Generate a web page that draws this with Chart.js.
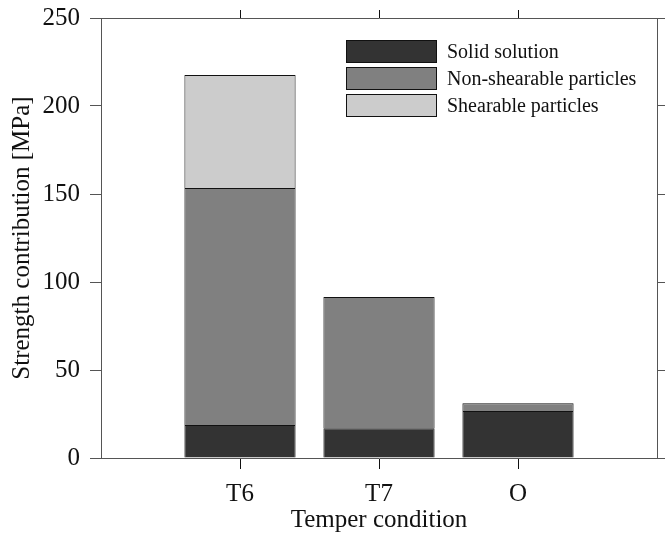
<!DOCTYPE html>
<html>
<head>
<meta charset="utf-8">
<script src="https://cdn.jsdelivr.net/npm/chart.js@4"></script>
<style>
  html, body { margin: 0; padding: 0; background: #fff; }
  #wrap { width: 665px; height: 535px; }
</style>
</head>
<body>
<div id="wrap"><canvas id="ctx_strength"></canvas></div>
<script>
const tempers = ['T6', 'T7', 'O'];
const solid_solution = [18.7, 16.9, 26.7];
const non_shearable = [134.7, 74.6, 4.4];
const shearable = [64.2, 0, 0];
const y_ticks = [0, 50, 100, 150, 200, 250];

// pad the category axis so the bars sit at 1/4, 2/4, 3/4 of the width
const labels = [''].concat(tempers, ['']);
const pad = arr => [null].concat(arr, [null]);

const FONT = 'Liberation Serif, Times New Roman, serif';
const AXIS = '#555';
const EDGE = '#111';

const hideEdges = c => (c.index === 0 || c.index === labels.length - 1) ? 'rgba(0,0,0,0)' : '#111';
const noPad = s => { s.paddingTop = 0; s.paddingBottom = 0; s.paddingLeft = 0; s.paddingRight = 0; };

// legend drawn inside the plot area
const innerLegend = {
    id: 'innerLegend',
    afterDraw(chart) {
        const ctx = chart.ctx;
        const x = chart.chartArea.left + 245, w = 91, h = 23;
        let y = chart.chartArea.top + 22;
        ctx.save();
        ctx.font = '20px ' + FONT;
        ctx.textBaseline = 'middle';
        chart.data.datasets.forEach(ds => {
            ctx.fillStyle = ds.backgroundColor;
            ctx.fillRect(x, y, w, h);
            ctx.strokeStyle = EDGE;
            ctx.lineWidth = 1;
            ctx.strokeRect(x + 0.5, y + 0.5, w - 1, h - 1);
            ctx.fillStyle = '#111';
            ctx.fillText(ds.label, x + w + 10, y + h / 2 + 1);
            y += 27;
        });
        ctx.restore();
    }
};

new Chart(document.getElementById('ctx_strength').getContext('2d'), {
    type: 'bar',
    data: {
        labels: labels,
        datasets: [
            { label: 'Solid solution', data: pad(solid_solution), backgroundColor: '#333333', borderColor: EDGE },
            { label: 'Non-shearable particles', data: pad(non_shearable), backgroundColor: '#808080', borderColor: EDGE },
            { label: 'Shearable particles', data: pad(shearable), backgroundColor: '#cccccc', borderColor: EDGE }
        ]
    },
    options: {
        responsive: true,
        maintainAspectRatio: false,
        animation: false,
        datasets: {
            bar: {
                borderWidth: 1,
                borderSkipped: 'start',
                categoryPercentage: 1,
                barPercentage: 0.8
            }
        },
        layout: { padding: 0 },
        plugins: {
            legend: { display: false },
            tooltip: { enabled: false }
        },
        scales: {
            x: {
                stacked: true,
                offset: false,
                grid: { offset: false, drawOnChartArea: false, tickLength: 11, color: hideEdges },
                border: { color: AXIS, width: 1 },
                ticks: { font: { family: FONT, size: 25 }, color: '#111', padding: 10, maxRotation: 0, autoSkip: false },
                title: { display: true, text: 'Temper condition', font: { family: FONT, size: 25 }, color: '#111', padding: { top: 0, bottom: 0 } },
                afterFit: s => { s.height = 77; noPad(s); }
            },
            x2: {
                position: 'top',
                type: 'category',
                offset: false,
                grid: { offset: false, drawOnChartArea: false, tickLength: 8, color: hideEdges },
                border: { color: AXIS, width: 1 },
                ticks: { display: false },
                afterFit: s => { s.height = 18; noPad(s); }
            },
            y: {
                stacked: true,
                min: 0,
                max: 250,
                afterBuildTicks: s => { s.ticks = y_ticks.map(v => ({ value: v })); },
                grid: { drawOnChartArea: false, tickLength: 11, color: AXIS },
                border: { color: AXIS, width: 1 },
                ticks: { font: { family: FONT, size: 25 }, color: '#111', padding: 10 },
                title: { display: true, text: 'Strength contribution [MPa]', font: { family: FONT, size: 25 }, color: '#111', padding: { top: 7, bottom: 0 } },
                afterFit: s => { s.width = 101; noPad(s); }
            },
            y2: {
                position: 'right',
                min: 0,
                max: 250,
                afterBuildTicks: s => { s.ticks = y_ticks.map(v => ({ value: v })); },
                grid: { drawOnChartArea: false, tickLength: 8, color: AXIS },
                border: { color: AXIS, width: 1 },
                ticks: { display: false },
                afterFit: s => { s.width = 8; noPad(s); }
            }
        }
    },
    plugins: [innerLegend]
});
</script>
</body>
</html>
